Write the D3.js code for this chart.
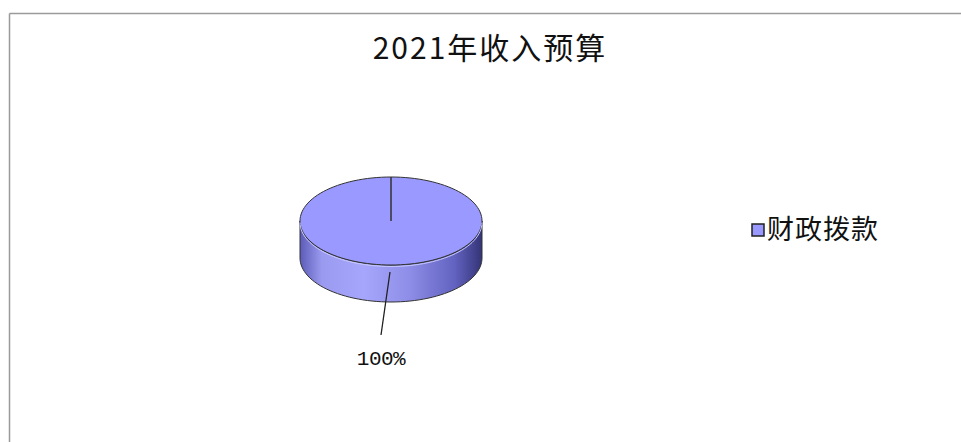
<!DOCTYPE html>
<html>
<head>
<meta charset="utf-8">
<script src="https://cdn.jsdelivr.net/npm/d3@7"></script>
<style>
  body { margin: 0; background: #fff; }
  svg { display: block; }
</style>
</head>
<body>
<svg width="961" height="442"></svg>
<script>
  const title = "2021年收入预算";
  const categories = ["财政拨款"];
  const values = [100];
  const labels = ["100%"];

  const svg = d3.select("svg");
  const width = +svg.attr("width");

  // frame (only top and left edges show)
  svg.append("line").attr("x1", 9.5).attr("x2", width).attr("y1", 13.5).attr("y2", 13.5)
    .attr("stroke", "#9a9a9a").attr("stroke-width", 1.5);
  svg.append("line").attr("x1", 9.5).attr("x2", 9.5).attr("y1", 13.5).attr("y2", 442)
    .attr("stroke", "#9a9a9a").attr("stroke-width", 1.5);

  svg.append("text")
    .attr("x", 490).attr("y", 59)
    .attr("text-anchor", "middle")
    .attr("font-family", "'Noto Sans CJK SC', sans-serif")
    .attr("font-size", 30)
    .attr("letter-spacing", 2)
    .attr("fill", "#111")
    .text(title);

  const cx = 391, cy = 221, rx = 91, ry = 44, depth = 37;
  const color = d3.scaleOrdinal().domain(categories).range(["#9999ff"]);

  const pie = d3.pie().sort(null).value((d) => d.value);
  const arcs = pie(categories.map((c, i) => ({ name: c, value: values[i], label: labels[i] })));

  const px = (a) => cx + rx * Math.sin(a);
  const py = (a, dz = 0) => cy - ry * Math.cos(a) + dz;

  const defs = svg.append("defs");
  const grad = defs.append("linearGradient").attr("id", "side")
    .attr("x1", "0%").attr("x2", "100%").attr("y1", "0%").attr("y2", "0%");
  [["0%", "#5c5cb8"], ["12%", "#9a9af0"], ["35%", "#a6a6fc"], ["60%", "#8e8ee8"],
   ["85%", "#6262c0"], ["100%", "#343478"]].forEach(([o, c]) =>
    grad.append("stop").attr("offset", o).attr("stop-color", c));

  const g = svg.append("g");

  // outer wall: only the front half (angles between PI/2 and 3PI/2)
  arcs.forEach((d) => {
    const a0 = Math.max(d.startAngle, Math.PI / 2);
    const a1 = Math.min(d.endAngle, 3 * Math.PI / 2);
    if (a1 <= a0) return;
    const path = d3.path();
    path.moveTo(px(a1), py(a1));
    const steps = 60;
    for (let i = 0; i <= steps; i++) {
      const a = a1 - (a1 - a0) * i / steps;
      path.lineTo(px(a), py(a));
    }
    for (let i = 0; i <= steps; i++) {
      const a = a0 + (a1 - a0) * i / steps;
      path.lineTo(px(a), py(a, depth));
    }
    path.closePath();
    g.append("path").attr("d", path.toString())
      .attr("fill", "url(#side)")
      .attr("stroke", "#333").attr("stroke-width", 1);
  });

  // top face
  arcs.forEach((d) => {
    const path = d3.path();
    path.moveTo(cx, cy);
    path.lineTo(px(d.startAngle), py(d.startAngle));
    const steps = 120;
    for (let i = 1; i <= steps; i++) {
      const a = d.startAngle + (d.endAngle - d.startAngle) * i / steps;
      path.lineTo(px(a), py(a));
    }
    path.closePath();
    g.append("path").attr("d", path.toString())
      .attr("fill", color(d.data.name))
      .attr("stroke", "#333").attr("stroke-width", 1);
    // light rim between top and wall
    const rim = d3.path();
    for (let i = 0; i <= 60; i++) {
      const a = Math.PI / 2 + Math.PI * i / 60;
      if (i === 0) rim.moveTo(px(a), py(a) + 1.5); else rim.lineTo(px(a), py(a) + 1.5);
    }
    g.append("path").attr("d", rim.toString()).attr("fill", "none")
      .attr("stroke", "#c8c8ff").attr("stroke-width", 1);
  });

  // leader lines and labels
  arcs.forEach((d) => {
    const mid = (d.startAngle + d.endAngle) / 2;
    const x0 = px(mid) - 1, y0 = py(mid, depth) - 30;
    const x1 = x0 - 9, y1 = y0 + 63;
    g.append("line").attr("x1", x0).attr("y1", y0).attr("x2", x1).attr("y2", y1)
      .attr("stroke", "#222").attr("stroke-width", 1.3);
    g.append("text").attr("x", x1).attr("y", y1 + 30)
      .attr("text-anchor", "middle")
      .attr("font-family", "'Liberation Mono', monospace")
      .attr("font-size", 21)
      .attr("letter-spacing", -0.5)
      .attr("fill", "#111")
      .text(d.data.label);
  });

  // legend
  const legend = svg.append("g").attr("transform", "translate(752,224)");
  categories.forEach((c, i) => {
    const row = legend.append("g").attr("transform", `translate(0, ${i * 30})`);
    row.append("rect").attr("width", 12).attr("height", 12)
      .attr("fill", color(c)).attr("stroke", "#222").attr("stroke-width", 1.5);
    row.append("text").attr("x", 15).attr("y", 15)
      .attr("font-family", "'Noto Sans CJK SC', sans-serif")
      .attr("font-size", 27)
      .attr("letter-spacing", 1)
      .attr("fill", "#111")
      .text(c);
  });
</script>
</body>
</html>
